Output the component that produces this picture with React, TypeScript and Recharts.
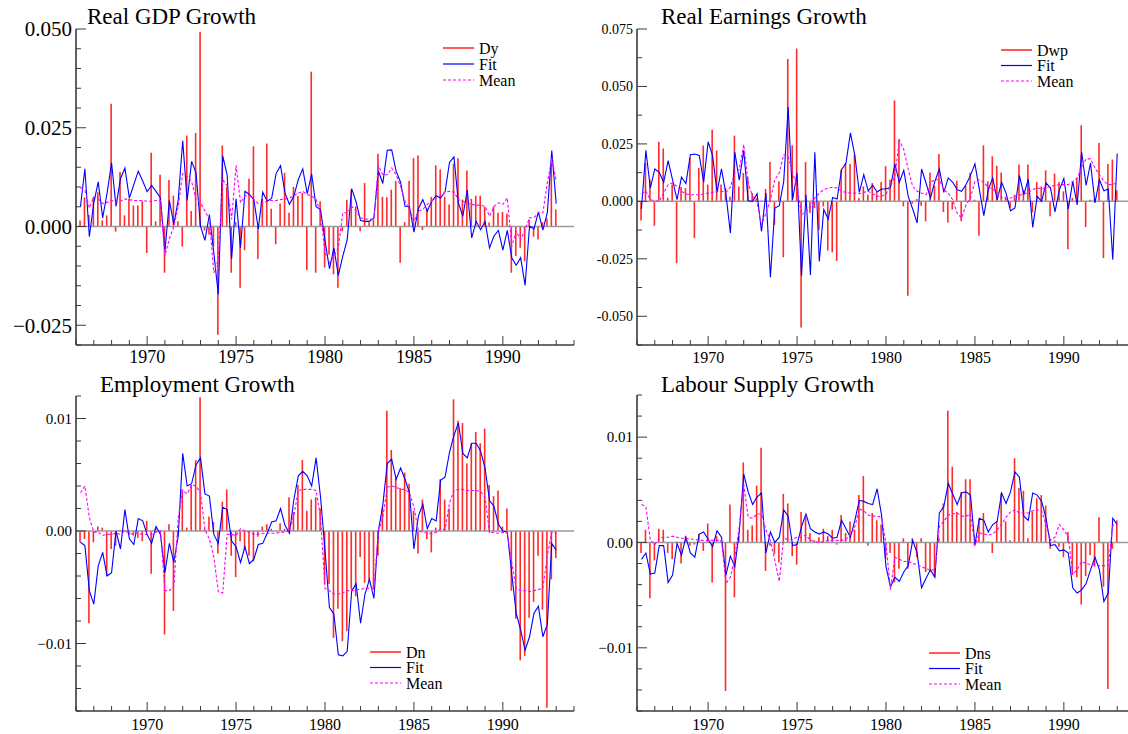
import React from 'react';
import { ComposedChart, Bar, Line, XAxis, YAxis, ReferenceLine, Legend } from 'recharts';

const FONT = '"Liberation Serif", "Times New Roman", Times, serif';

// quarterly observations 1966Q2 .. 1993Q1
const START_YEAR = 1966.25;
const QUARTER = 0.25;

const yearTicks = [1966, 1967, 1968, 1969, 1970, 1971, 1972, 1973, 1974, 1975, 1976, 1977, 1978, 1979, 1980,
  1981, 1982, 1983, 1984, 1985, 1986, 1987, 1988, 1989, 1990, 1991, 1992, 1993, 1994];
const yearLabels = [1970, 1975, 1980, 1985, 1990];

// ---------- Real GDP Growth ----------
const gdpDy = [
  0.0015, 0.0074, 0.0029, 0.0075, 0.0087, 0.0015, 0.0028, 0.0311, -0.0013, 0.0138,
  0.0028, 0.0071, 0.0053, 0.0053, 0.0064, -0.0067, 0.0187, 0.0013, 0.0131, -0.0117,
  0.0118, 0.0078, 0.0013, -0.0051, 0.0230, 0.0039, 0.0237, 0.0493, -0.0010, -0.0020,
  -0.0050, -0.0274, 0.0205, 0.0100, -0.0117, 0.0011, -0.0155, -0.0060, 0.0121, 0.0203,
  -0.0082, 0.0070, 0.0210, 0.0045, -0.0045, 0.0058, 0.0136, 0.0035, 0.0100, 0.0077,
  0.0085, -0.0110, 0.0392, -0.0117, 0.0064, -0.0104, -0.0071, -0.0121, -0.0155, -0.0012,
  0.0068, 0.0093, 0.0051, -0.0012, 0.0110, 0.0011, 0.0018, 0.0184, 0.0075, 0.0074,
  0.0093, 0.0115, -0.0092, 0.0011, 0.0115, 0.0173, 0.0180, -0.0009, 0.0045, 0.0075,
  0.0155, 0.0144, 0.0075, 0.0056, 0.0159, 0.0173, 0.0068, 0.0142, 0.0070, 0.0078,
  0.0078, 0.0050, 0.0010, 0.0051, 0.0035, 0.0037, 0.0032, -0.0117, -0.0075, -0.0054,
  -0.0088, 0.0018, -0.0026, -0.0033, 0.0011, 0.0020, 0.0160, 0.0043,
];
const gdpFit = [
  0.0050, 0.0146, -0.0026, 0.0060, 0.0113, 0.0022, 0.0085, 0.0161, 0.0051, 0.0121,
  0.0148, 0.0072, 0.0106, 0.0140, 0.0115, 0.0088, 0.0104, 0.0089, 0.0072, -0.0064,
  0.0066, 0.0005, 0.0068, 0.0217, 0.0066, 0.0165, 0.0136, 0.0001, -0.0035, 0.0030,
  -0.0067, -0.0172, 0.0179, 0.0130, -0.0082, 0.0070, -0.0054, 0.0089, 0.0081, 0.0068,
  -0.0006, 0.0087, 0.0064, 0.0071, 0.0134, 0.0154, 0.0085, 0.0056, 0.0077, 0.0119,
  0.0146, 0.0083, 0.0133, 0.0050, 0.0043, -0.0035, -0.0107, -0.0054, -0.0124, -0.0075,
  -0.0033, 0.0096, 0.0062, 0.0015, 0.0013, 0.0013, 0.0022, 0.0141, 0.0109, 0.0193,
  0.0194, 0.0140, 0.0112, 0.0051, 0.0050, -0.0014, 0.0045, 0.0068, 0.0039, 0.0064,
  0.0078, 0.0072, 0.0088, 0.0162, 0.0176, 0.0060, 0.0026, 0.0092, -0.0029, 0.0013,
  -0.0008, 0.0013, -0.0054, -0.0024, -0.0010, -0.0060, -0.0010, -0.0079, -0.0098, -0.0079,
  -0.0149, 0.0001, -0.0006, 0.0037, -0.0009, 0.0035, 0.0192, 0.0058,
];
const gdpMean = [
  0.0098, 0.0092, 0.0047, 0.0075, 0.0070, 0.0058, 0.0061, 0.0066, 0.0061, 0.0064,
  0.0070, 0.0068, 0.0066, 0.0066, 0.0066, 0.0064, 0.0064, 0.0066, 0.0066, -0.0075,
  -0.0031, 0.0000, 0.0051, 0.0134, 0.0127, 0.0114, 0.0068, 0.0060, 0.0039, 0.0018,
  -0.0117, -0.0083, 0.0119, 0.0102, 0.0018, 0.0155, 0.0060, 0.0077, 0.0079, 0.0068,
  0.0058, 0.0060, 0.0064, 0.0066, 0.0066, 0.0068, 0.0070, 0.0072, 0.0078, 0.0085,
  0.0089, 0.0081, 0.0077, 0.0068, 0.0035, -0.0067, -0.0092, -0.0075, -0.0054, 0.0035,
  0.0035, 0.0051, 0.0039, 0.0022, 0.0019, 0.0018, 0.0018, 0.0154, 0.0131, 0.0131,
  0.0148, 0.0131, 0.0102, 0.0064, 0.0043, 0.0013, 0.0039, 0.0043, 0.0056, 0.0064,
  0.0072, 0.0077, 0.0087, 0.0089, 0.0088, 0.0068, 0.0064, 0.0060, 0.0056, 0.0054,
  0.0054, 0.0051, 0.0026, 0.0051, 0.0060, 0.0056, 0.0072, -0.0050, -0.0012, -0.0033,
  -0.0008, 0.0022, 0.0022, 0.0035, 0.0035, 0.0110, 0.0173, 0.0115,
];

// ---------- Real Earnings Growth ----------
const earnDwp = [
  -0.0083, 0.0167, 0.0094, -0.0106, 0.0259, 0.0230, 0.0015, 0.0073, -0.0269, 0.0062,
  0.0058, 0.0189, -0.0160, 0.0145, 0.0243, 0.0073, 0.0312, 0.0221, 0.0073, 0.0058,
  0.0020, 0.0286, 0.0065, 0.0124, 0.0106, 0.0036, 0.0015, 0.0003, 0.0054, 0.0171,
  -0.0102, 0.0087, -0.0243, 0.0620, 0.0244, 0.0665, -0.0549, 0.0171, -0.0051, -0.0029,
  -0.0124, -0.0022, -0.0214, -0.0222, -0.0259, 0.0138, 0.0167, 0.0163, 0.0203, 0.0015,
  0.0065, 0.0029, 0.0080, 0.0039, 0.0084, 0.0153, 0.0094, 0.0439, 0.0269, -0.0022,
  -0.0411, -0.0010, 0.0010, -0.0019, -0.0087, 0.0126, 0.0068, 0.0206, -0.0046, -0.0092,
  -0.0036, 0.0090, -0.0087, 0.0068, 0.0124, 0.0007, -0.0150, 0.0244, 0.0087, 0.0196,
  0.0155, 0.0126, 0.0020, -0.0029, 0.0029, 0.0160, 0.0050, 0.0160, -0.0048, 0.0084,
  0.0065, 0.0135, -0.0065, 0.0121, 0.0084, 0.0044, -0.0208, 0.0015, 0.0102, 0.0331,
  -0.0112, 0.0007, 0.0015, 0.0254, -0.0247, 0.0163, 0.0182, 0.0048,
];
const earnFit = [
  -0.0033, 0.0222, 0.0058, 0.0141, 0.0126, 0.0083, 0.0177, 0.0094, 0.0007, 0.0105,
  0.0077, 0.0203, 0.0206, 0.0200, 0.0084, 0.0259, 0.0199, 0.0039, 0.0141, 0.0032,
  -0.0138, 0.0214, 0.0092, 0.0222, 0.0003, 0.0000, 0.0033, -0.0131, 0.0036, -0.0330,
  -0.0029, -0.0019, 0.0087, 0.0411, 0.0007, 0.0124, -0.0324, 0.0029, -0.0320, 0.0214,
  -0.0262, -0.0036, -0.0077, 0.0017, 0.0010, 0.0138, 0.0167, 0.0298, 0.0199, 0.0039,
  0.0116, 0.0046, 0.0070, 0.0041, 0.0054, 0.0054, 0.0061, 0.0163, 0.0083, 0.0135,
  0.0022, -0.0033, -0.0094, 0.0141, 0.0080, 0.0015, 0.0087, 0.0141, 0.0039, 0.0102,
  0.0083, 0.0051, 0.0044, 0.0073, 0.0113, 0.0163, 0.0051, -0.0062, 0.0051, 0.0102,
  0.0007, 0.0083, 0.0036, -0.0041, -0.0029, 0.0113, 0.0029, 0.0097, -0.0113, 0.0022,
  0.0000, 0.0080, 0.0058, -0.0046, 0.0051, 0.0099, -0.0033, 0.0087, -0.0015, 0.0215,
  0.0070, 0.0167, -0.0007, 0.0094, 0.0046, 0.0054, -0.0254, 0.0208,
];
const earnMean = [
  0.0033, 0.0044, 0.0007, 0.0003, 0.0000, 0.0036, 0.0073, 0.0080, 0.0065, 0.0044,
  0.0032, 0.0029, 0.0029, 0.0029, 0.0032, 0.0036, 0.0039, 0.0044, 0.0044, 0.0039,
  0.0062, 0.0124, 0.0138, 0.0247, 0.0080, 0.0022, -0.0007, -0.0102, -0.0051, 0.0007,
  0.0094, 0.0124, 0.0203, 0.0196, 0.0124, 0.0065, -0.0058, -0.0044, -0.0022, 0.0015,
  0.0036, 0.0051, 0.0058, 0.0061, 0.0058, 0.0044, 0.0039, 0.0036, 0.0036, 0.0033,
  0.0039, 0.0044, 0.0032, 0.0022, 0.0022, 0.0032, 0.0065, 0.0109, 0.0266, 0.0225,
  0.0138, 0.0065, 0.0044, 0.0036, 0.0029, 0.0083, 0.0094, 0.0094, 0.0051, 0.0036,
  0.0007, -0.0051, -0.0073, -0.0015, 0.0015, 0.0087, 0.0094, 0.0083, 0.0061, 0.0054,
  0.0036, 0.0017, 0.0010, 0.0015, 0.0022, 0.0026, 0.0032, 0.0039, 0.0051, 0.0058,
  0.0055, 0.0058, 0.0065, 0.0070, 0.0073, 0.0073, 0.0073, 0.0087, 0.0102, 0.0145,
  0.0185, 0.0185, 0.0145, 0.0116, 0.0087, 0.0073, 0.0073, 0.0083,
];

// ---------- Employment Growth ----------
const emplDn = [
  -0.0010, -0.0007, -0.0082, -0.0010, 0.0004, 0.0003, -0.0040, -0.0016, -0.0013, 0.0001,
  0.0001, -0.0003, -0.0004, -0.0006, -0.0009, 0.0009, -0.0038, 0.0003, -0.0002, -0.0092,
  0.0006, -0.0071, -0.0005, 0.0037, 0.0003, 0.0041, 0.0063, 0.0119, 0.0002, 0.0013,
  0.0008, -0.0020, 0.0026, 0.0037, -0.0022, -0.0041, -0.0009, -0.0017, -0.0022, -0.0027,
  -0.0005, 0.0004, 0.0006, 0.0002, 0.0000, 0.0007, 0.0002, 0.0030, 0.0017, 0.0041,
  0.0063, 0.0018, 0.0028, 0.0030, 0.0020, -0.0047, -0.0047, -0.0095, -0.0069, -0.0098,
  -0.0089, -0.0052, -0.0058, -0.0023, -0.0046, -0.0044, -0.0052, -0.0022, 0.0021, 0.0107,
  0.0072, 0.0047, 0.0038, 0.0052, 0.0042, 0.0018, -0.0020, 0.0028, -0.0007, -0.0019,
  0.0003, 0.0046, 0.0028, 0.0020, 0.0117, 0.0098, 0.0096, 0.0060, 0.0078, 0.0088,
  0.0078, 0.0091, 0.0041, 0.0031, 0.0036, 0.0004, 0.0020, -0.0053, -0.0078, -0.0115,
  -0.0111, -0.0077, -0.0063, -0.0022, -0.0070, -0.0157, -0.0043, -0.0024,
];
const emplFit = [
  -0.0010, -0.0013, -0.0053, -0.0065, -0.0031, -0.0019, -0.0040, -0.0037, 0.0000, -0.0016,
  0.0019, -0.0007, -0.0012, 0.0011, 0.0009, -0.0003, -0.0011, 0.0004, -0.0003, -0.0037,
  -0.0011, -0.0028, -0.0004, 0.0069, 0.0040, 0.0042, 0.0059, 0.0065, 0.0033, 0.0031,
  -0.0003, -0.0011, 0.0021, 0.0019, -0.0009, -0.0014, -0.0028, -0.0014, -0.0029, -0.0025,
  -0.0012, -0.0011, -0.0002, 0.0008, 0.0009, 0.0020, 0.0005, -0.0002, 0.0028, 0.0049,
  0.0053, 0.0049, 0.0040, 0.0065, 0.0030, -0.0017, -0.0068, -0.0074, -0.0110, -0.0111,
  -0.0107, -0.0053, -0.0047, -0.0082, -0.0056, -0.0043, -0.0060, 0.0000, 0.0023, 0.0060,
  0.0064, 0.0046, 0.0056, 0.0046, 0.0034, -0.0016, 0.0013, 0.0024, 0.0002, 0.0011,
  0.0009, 0.0045, 0.0048, 0.0070, 0.0085, 0.0096, 0.0069, 0.0065, 0.0078, 0.0078,
  0.0071, 0.0056, 0.0027, 0.0022, 0.0006, 0.0000, -0.0001, -0.0038, -0.0073, -0.0088,
  -0.0106, -0.0094, -0.0073, -0.0067, -0.0094, -0.0083, -0.0011, -0.0017,
];
const emplMean = [
  0.0034, 0.0040, 0.0012, -0.0001, -0.0001, -0.0004, -0.0003, -0.0003, -0.0002, -0.0003,
  0.0000, -0.0002, -0.0003, -0.0002, -0.0003, -0.0003, -0.0003, -0.0001, 0.0000, -0.0053,
  -0.0053, -0.0049, 0.0012, 0.0036, 0.0033, 0.0041, 0.0040, 0.0034, 0.0001, -0.0007,
  -0.0023, -0.0054, -0.0055, -0.0003, -0.0003, -0.0004, 0.0002, 0.0000, -0.0001, -0.0003,
  -0.0003, -0.0002, -0.0002, -0.0002, -0.0002, -0.0001, -0.0001, 0.0000, 0.0014, 0.0036,
  0.0037, 0.0037, 0.0037, 0.0036, 0.0012, -0.0051, -0.0053, -0.0056, -0.0056, -0.0055,
  -0.0053, -0.0053, -0.0052, -0.0052, -0.0051, -0.0051, -0.0051, 0.0000, 0.0012, 0.0039,
  0.0040, 0.0039, 0.0037, 0.0037, 0.0034, 0.0021, 0.0000, -0.0001, -0.0002, -0.0002,
  -0.0001, 0.0002, 0.0001, 0.0025, 0.0036, 0.0037, 0.0037, 0.0036, 0.0036, 0.0036,
  0.0035, 0.0030, -0.0002, -0.0001, -0.0002, -0.0001, -0.0002, -0.0028, -0.0051, -0.0053,
  -0.0053, -0.0054, -0.0053, -0.0052, -0.0051, -0.0022, -0.0001, -0.0002,
];

// ---------- Labour Supply Growth ----------
const labDns = [
  -0.0010, 0.0012, -0.0053, -0.0017, 0.0013, 0.0012, -0.0010, -0.0016, 0.0000, -0.0020,
  0.0006, -0.0003, -0.0002, 0.0008, -0.0008, 0.0018, -0.0038, 0.0006, 0.0002, -0.0141,
  0.0036, -0.0052, 0.0006, 0.0076, 0.0012, 0.0016, 0.0054, 0.0090, -0.0027, -0.0003,
  -0.0011, -0.0019, 0.0046, 0.0037, -0.0013, -0.0021, 0.0029, 0.0024, 0.0009, 0.0002,
  0.0005, 0.0013, 0.0006, 0.0012, -0.0002, 0.0026, 0.0009, 0.0020, 0.0012, 0.0045,
  0.0063, -0.0003, 0.0028, 0.0021, 0.0017, -0.0015, -0.0010, -0.0038, -0.0025, 0.0004,
  -0.0025, 0.0004, -0.0014, 0.0004, -0.0028, -0.0028, -0.0033, 0.0004, 0.0037, 0.0125,
  0.0072, 0.0029, 0.0048, 0.0060, 0.0060, -0.0003, 0.0022, 0.0028, 0.0001, -0.0010,
  0.0020, 0.0047, 0.0020, 0.0002, 0.0080, 0.0052, 0.0049, 0.0004, 0.0029, 0.0042,
  0.0045, 0.0035, -0.0006, 0.0002, -0.0004, -0.0014, 0.0010, -0.0031, -0.0033, -0.0059,
  -0.0032, -0.0012, -0.0023, 0.0024, -0.0042, -0.0139, -0.0006, 0.0021,
];
const labFit = [
  -0.0016, -0.0010, -0.0030, -0.0029, -0.0003, -0.0003, -0.0038, -0.0031, -0.0001, -0.0012,
  0.0005, -0.0010, -0.0014, 0.0008, 0.0010, 0.0003, -0.0004, 0.0011, 0.0005, -0.0031,
  -0.0013, -0.0023, 0.0010, 0.0065, 0.0048, 0.0036, 0.0043, 0.0047, -0.0010, 0.0010,
  0.0000, 0.0005, 0.0031, 0.0025, -0.0003, -0.0002, 0.0015, 0.0027, 0.0013, 0.0010,
  0.0008, 0.0010, 0.0008, 0.0004, 0.0005, 0.0021, 0.0013, 0.0005, 0.0021, 0.0040,
  0.0039, 0.0037, 0.0036, 0.0051, 0.0026, -0.0023, -0.0042, -0.0033, -0.0037, -0.0028,
  -0.0022, 0.0002, -0.0010, -0.0043, -0.0034, -0.0026, -0.0033, 0.0028, 0.0034, 0.0056,
  0.0046, 0.0036, 0.0047, 0.0048, 0.0045, -0.0002, 0.0023, 0.0021, 0.0010, 0.0017,
  0.0020, 0.0047, 0.0037, 0.0048, 0.0067, 0.0062, 0.0025, 0.0021, 0.0047, 0.0045,
  0.0039, 0.0023, -0.0003, -0.0002, -0.0008, -0.0007, -0.0010, -0.0043, -0.0048, -0.0045,
  -0.0039, -0.0026, -0.0014, -0.0026, -0.0056, -0.0048, 0.0023, 0.0017,
];
const labMean = [
  0.0036, 0.0034, 0.0002, -0.0002, 0.0004, 0.0005, 0.0005, 0.0006, 0.0005, 0.0004,
  0.0004, 0.0003, 0.0003, 0.0002, 0.0002, 0.0002, 0.0002, 0.0002, 0.0002, -0.0039,
  -0.0033, -0.0014, 0.0015, 0.0055, 0.0024, 0.0023, 0.0027, 0.0027, 0.0012, 0.0002,
  -0.0017, -0.0037, 0.0005, 0.0002, 0.0003, 0.0005, 0.0005, 0.0007, 0.0002, 0.0001,
  0.0000, 0.0001, 0.0002, 0.0002, 0.0002, 0.0002, 0.0003, 0.0007, 0.0015, 0.0032,
  0.0030, 0.0026, 0.0025, 0.0025, 0.0024, -0.0001, -0.0045, -0.0014, -0.0016, -0.0018,
  -0.0018, -0.0020, -0.0021, -0.0023, -0.0025, -0.0026, -0.0026, 0.0015, 0.0020, 0.0026,
  0.0027, 0.0028, 0.0025, 0.0025, 0.0027, -0.0003, 0.0009, 0.0008, 0.0007, 0.0008,
  0.0012, 0.0017, 0.0024, 0.0029, 0.0031, 0.0028, 0.0028, 0.0028, 0.0030, 0.0031,
  0.0030, 0.0017, 0.0002, 0.0005, 0.0017, 0.0012, 0.0005, -0.0030, -0.0026, -0.0018,
  -0.0020, -0.0021, -0.0021, -0.0022, -0.0022, -0.0022, 0.0016, 0.0018,
];

// ---------- axis tick values & labels ----------
const gdpYTicks = [-0.03, -0.025, -0.02, -0.015, -0.01, -0.005, 0, 0.005, 0.01, 0.015, 0.02, 0.025, 0.03, 0.035, 0.04, 0.045, 0.05];
const gdpYMajor = [0.05, 0.025, 0, -0.025];
const gdpYLabels = ['0.050', '0.025', '0.000', '\u22120.025'];

const earnYTicks = [-0.0625, -0.05, -0.0375, -0.025, -0.0125, 0, 0.0125, 0.025, 0.0375, 0.05, 0.0625, 0.075];
const earnYMajor = [0.075, 0.05, 0.025, 0, -0.025, -0.05];
const earnYLabels = ['0.075', '0.050', '0.025', '0.000', '-0.025', '-0.050'];

const emplYTicks = [-0.016, -0.014, -0.012, -0.01, -0.008, -0.006, -0.004, -0.002, 0, 0.002, 0.004, 0.006, 0.008, 0.01, 0.012];
const labYTicks = [-0.016, -0.014, -0.012, -0.01, -0.008, -0.006, -0.004, -0.002, 0, 0.002, 0.004, 0.006, 0.008, 0.01, 0.012, 0.014];
const smallYMajor = [0.01, 0, -0.01];
const smallYLabels = ['0.01', '0.00', '\u22120.01'];

type LegendItem = { label: string; color: string; width: number; dash?: string };

type PanelCfg = {
  title: string;
  titleX: number;
  titleY: number;
  left: number;
  top: number;
  height: number;
  bars: number[];
  fit: number[];
  mean: number[];
  barName: string;
  yDomain: [number, number];
  yTicks: number[];
  yMajor: number[];
  yLabels: string[];
  yFont: number;
  xFont: number;
  xLabelDy: number;
  legendLeft: number;
  legendTop: number;
  legendGap: number;
};

// chart boxes: plot area starts 76px right / 29px below each box origin
const panels: PanelCfg[] = [
  {
    title: 'Real GDP Growth', titleX: 87, titleY: 24, left: 0, top: 0, height: 375,
    bars: gdpDy, fit: gdpFit, mean: gdpMean, barName: 'Dy',
    yDomain: [-0.03, 0.05], yTicks: gdpYTicks, yMajor: gdpYMajor, yLabels: gdpYLabels,
    yFont: 21, xFont: 18, xLabelDy: 18, legendLeft: 443, legendTop: 40, legendGap: 16,
  },
  {
    title: 'Real Earnings Growth', titleX: 661, titleY: 24, left: 561, top: 0, height: 375,
    bars: earnDwp, fit: earnFit, mean: earnMean, barName: 'Dwp',
    yDomain: [-0.0625, 0.075], yTicks: earnYTicks, yMajor: earnYMajor, yLabels: earnYLabels,
    yFont: 14, xFont: 16, xLabelDy: 18, legendLeft: 440, legendTop: 42, legendGap: 15.5,
  },
  {
    title: 'Employment Growth', titleX: 100, titleY: 392, left: 0, top: 367, height: 374,
    bars: emplDn, fit: emplFit, mean: emplMean, barName: 'Dn',
    yDomain: [-0.016, 0.012], yTicks: emplYTicks, yMajor: smallYMajor, yLabels: smallYLabels,
    yFont: 15, xFont: 16, xLabelDy: 19, legendLeft: 370, legendTop: 277, legendGap: 15.5,
  },
  {
    title: 'Labour Supply Growth', titleX: 661, titleY: 392, left: 561, top: 366, height: 375,
    bars: labDns, fit: labFit, mean: labMean, barName: 'Dns',
    yDomain: [-0.016, 0.014], yTicks: labYTicks, yMajor: smallYMajor, yLabels: smallYLabels,
    yFont: 15, xFont: 16, xLabelDy: 19, legendLeft: 368, legendTop: 279, legendGap: 15.5,
  },
];

const FRAME = '#3a3a3a';

function XTick(props: any) {
  const { x, y, payload, fs, dy } = props;
  const v = payload.value;
  const major = yearLabels.indexOf(v) >= 0;
  return (
    <g>
      <line x1={x} x2={x} y1={y} y2={y - (major ? 9 : 5)} stroke={FRAME} strokeWidth={1} />
      {major && (
        <text x={x} y={y + dy} textAnchor="middle" fontFamily={FONT} fontSize={fs} fill="#000">
          {v}
        </text>
      )}
    </g>
  );
}

function YTick(props: any) {
  const { x, y, payload, cfg } = props;
  const v = payload.value as number;
  const idx = cfg.yMajor.findIndex((m: number) => Math.abs(m - v) < 1e-9);
  const major = idx >= 0;
  return (
    <g>
      <line x1={x} x2={x + (major ? 10 : 5)} y1={y} y2={y} stroke={FRAME} strokeWidth={1} />
      {major && (
        <text x={x - 4} y={y} dy="0.35em" textAnchor="end" fontFamily={FONT} fontSize={cfg.yFont} fill="#000">
          {cfg.yLabels[idx]}
        </text>
      )}
    </g>
  );
}

function LegendBox({ items, gap }: { items: LegendItem[]; gap: number }) {
  return (
    <svg width={130} height={56} style={{ overflow: 'visible', display: 'block' }}>
      {items.map((it, k) => (
        <g key={k}>
          <line x1={0} x2={31} y1={8 + k * gap} y2={8 + k * gap} stroke={it.color} strokeWidth={it.width} strokeDasharray={it.dash} />
          <text x={36} y={8 + k * gap} dy="0.35em" fontFamily={FONT} fontSize={16} fill="#000">
            {it.label}
          </text>
        </g>
      ))}
    </svg>
  );
}

function PanelChart({ cfg }: { cfg: PanelCfg }) {
  const rows = cfg.bars.map((b, i) => ({
    t: START_YEAR + i * QUARTER,
    bar: b,
    fit: cfg.fit[i],
    mean: cfg.mean[i],
  }));
  const legendItems: LegendItem[] = [
    { label: cfg.barName, color: '#ff3030', width: 1.6 },
    { label: 'Fit', color: '#0000ff', width: 1.2 },
    { label: 'Mean', color: '#ff00ff', width: 1.2, dash: '3 2' },
  ];
  return (
    <div style={{ position: 'absolute', left: cfg.left, top: cfg.top }}>
      <ComposedChart width={584} height={cfg.height} data={rows} margin={{ top: 29, right: 10, bottom: 0, left: 16 }}>
        <XAxis
          dataKey="t"
          type="number"
          domain={[1966, 1994]}
          ticks={yearTicks}
          interval={0}
          allowDataOverflow
          height={30}
          tickSize={0}
          tickMargin={0}
          tickLine={false}
          axisLine={{ stroke: FRAME, strokeWidth: 1.6 }}
          tick={(tp: any) => <XTick {...tp} fs={cfg.xFont} dy={cfg.xLabelDy} />}
        />
        <XAxis
          xAxisId="frameTop"
          orientation="top"
          type="number"
          domain={[1966, 1994]}
          allowDataOverflow
          height={0}
          tick={false}
          tickLine={false}
          axisLine={{ stroke: '#666', strokeWidth: 1.6 }}
        />
        <YAxis
          type="number"
          domain={cfg.yDomain}
          ticks={cfg.yTicks}
          interval={0}
          allowDataOverflow
          width={60}
          tickSize={0}
          tickMargin={0}
          tickLine={false}
          axisLine={{ stroke: FRAME, strokeWidth: 1.6 }}
          tick={(tp: any) => <YTick {...tp} cfg={cfg} />}
        />
        <YAxis
          yAxisId="frameRight"
          orientation="right"
          type="number"
          domain={cfg.yDomain}
          allowDataOverflow
          width={0}
          tick={false}
          tickLine={false}
          axisLine={{ stroke: '#555', strokeWidth: 1.6 }}
        />
        <ReferenceLine y={0} stroke="#9a9a9a" strokeWidth={1.5} />
        <Bar dataKey="bar" name={cfg.barName} fill="#ff2a2a" barSize={1.6} isAnimationActive={false} />
        <Line dataKey="fit" name="Fit" type="linear" stroke="#0000ff" strokeWidth={1.1} dot={false} isAnimationActive={false} />
        <Line dataKey="mean" name="Mean" type="linear" stroke="#ff00ff" strokeWidth={1.1} strokeDasharray="3 2" dot={false} isAnimationActive={false} />
        <Legend
          layout="horizontal"
          verticalAlign="middle"
          align="center"
          wrapperStyle={{ left: cfg.legendLeft, top: cfg.legendTop, width: 130, height: 56 }}
          content={() => <LegendBox items={legendItems} gap={cfg.legendGap} />}
        />
      </ComposedChart>
    </div>
  );
}

export default function App() {
  return (
    <div style={{ position: 'fixed', left: 0, top: 0, width: 1128, height: 734, overflow: 'hidden', background: '#fff' }}>
      {panels.map((p, k) => (
        <PanelChart key={k} cfg={p} />
      ))}
      <svg width={1128} height={734} style={{ position: 'absolute', left: 0, top: 0, pointerEvents: 'none' }}>
        {panels.map((p, k) => (
          <text key={k} x={p.titleX} y={p.titleY} fontFamily={FONT} fontSize={23} fill="#000">
            {p.title}
          </text>
        ))}
      </svg>
    </div>
  );
}
